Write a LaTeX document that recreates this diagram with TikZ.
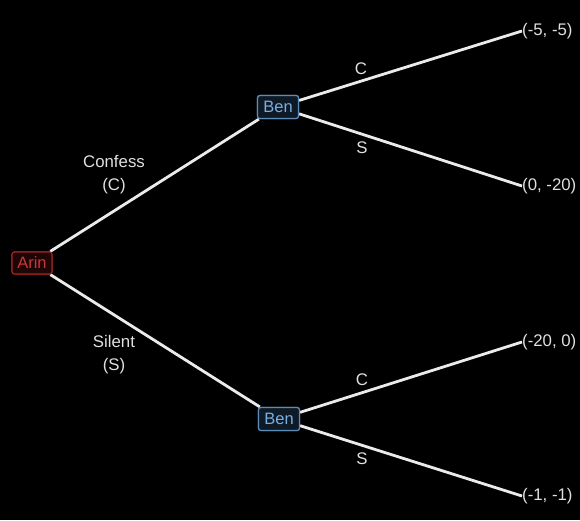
\documentclass[tikz,border=0pt]{standalone}
\usepackage{fontspec}
\setmainfont{Liberation Sans}
\definecolor{arinfill}{HTML}{1E0606}
\definecolor{arindraw}{HTML}{9A2222}
\definecolor{arintext}{HTML}{C83838}
\definecolor{benfill}{HTML}{0F1A27}
\definecolor{bendraw}{HTML}{5E8CB8}
\definecolor{bentext}{HTML}{7AAEE2}
\begin{document}
\begin{tikzpicture}[x=1pt,y=-1pt,
  txt/.style={text=white!88!black, font=\fontsize{16.8}{19}\selectfont},
  branch/.style={draw=white!92!black, line width=2.8pt},
  arinbox/.style={draw=arindraw, fill=arinfill, text=arintext, rounded corners=2.5pt, line width=1.2pt, minimum width=40pt, minimum height=22pt, inner sep=2pt, font=\fontsize{16.5}{18}\selectfont},
  benbox/.style={draw=bendraw, fill=benfill, text=bentext, rounded corners=2.5pt, line width=1.2pt, minimum width=41pt, minimum height=23pt, inner sep=2pt, font=\fontsize{16.5}{18}\selectfont},
  leaf/.style={txt, anchor=west, inner sep=0pt}
]
\fill[black] (0,0) rectangle (580,520);
\useasboundingbox (0,0) rectangle (580,520);
\node[arinbox] (arin) at (32,263) {Arin};
\node[benbox] (ben1) at (278,107) {Ben};
\node[benbox] (ben2) at (279,419) {Ben};
\node[leaf] (l1) at (522,31) {(-5, -5)};
\node[leaf] (l2) at (522,186) {(0, -20)};
\node[leaf] (l3) at (522,342) {(-20, 0)};
\node[leaf] (l4) at (522,496) {(-1, -1)};
\draw[branch] (arin) -- (ben1);
\draw[branch] (arin) -- (ben2);
\draw[branch] (ben1) -- (l1.west);
\draw[branch] (ben1) -- (l2.west);
\draw[branch] (ben2) -- (l3.west);
\draw[branch] (ben2) -- (l4.west);
\node[arinbox] at (arin) {Arin};
\node[benbox] at (ben1) {Ben};
\node[benbox] at (ben2) {Ben};
\node[txt] (lc1) at (114,161) {Confess};
\node[txt] (lc2) at (114,186) {(C)};
\node[txt] (ls1) at (114,341) {Silent};
\node[txt] (ls2) at (114,366) {(S)};
\node[txt] (c1) at (361,69) {C};
\node[txt] (s1) at (362,148) {S};
\node[txt] (c2) at (362,380) {C};
\node[txt] (s2) at (362,459) {S};
\end{tikzpicture}
\end{document}
